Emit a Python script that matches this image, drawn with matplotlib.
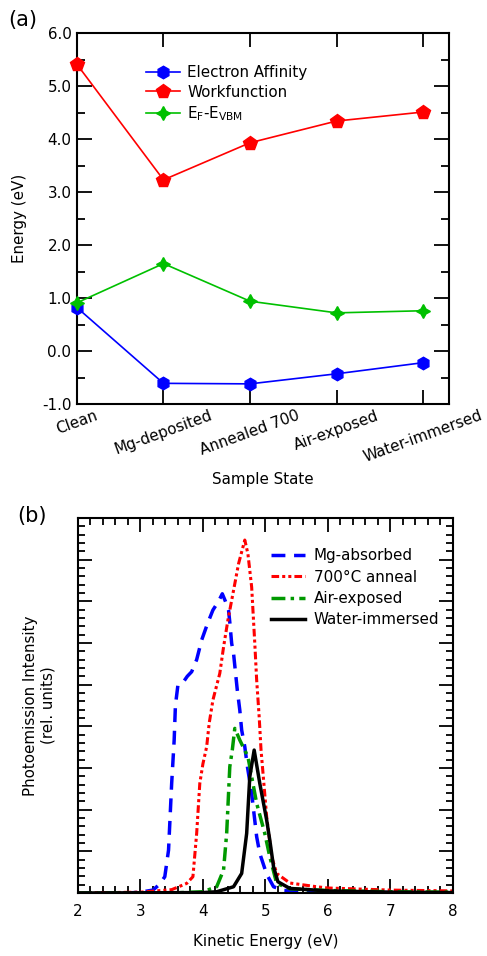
import matplotlib
matplotlib.use("Agg")
import matplotlib.pyplot as plt
from matplotlib.ticker import MultipleLocator, NullFormatter, FormatStrFormatter

plt.rcParams["font.family"] = ["DejaVu Sans"]
plt.rcParams["font.size"] = 10.9

# panel (a): band energies per sample state
states = ["Clean", "Mg-deposited", "Annealed 700", "Air-exposed", "Water-immersed"]
electron_affinity = [0.82, -0.61, -0.62, -0.43, -0.22]
workfunction = [5.41, 3.23, 3.93, 4.34, 4.51]
ef_evbm = [0.91, 1.65, 0.94, 0.72, 0.76]

# panel (b): photoemission spectra
mg_x = [2.0, 2.8, 3.0, 3.2, 3.3, 3.39, 3.45, 3.5, 3.54, 3.56, 3.6, 3.65, 3.69, 3.75, 3.82,
        3.9, 3.98, 4.07, 4.16, 4.25, 4.31, 4.36, 4.41, 4.43, 4.46, 4.49, 4.55, 4.59, 4.62,
        4.67, 4.71, 4.78, 4.86, 4.91, 5.02, 5.13, 5.3, 6.0, 7.0, 8.0]
mg_y = [0.0, 0.0, 0.02, 0.07, 0.2, 0.39, 1.03, 2.63, 3.67, 4.5, 4.99, 5.03, 5.07, 5.2, 5.31,
        5.6, 6.07, 6.45, 6.79, 7.0, 7.18, 7.0, 6.79, 6.5, 5.99, 5.75, 4.87, 4.39, 3.91,
        3.51, 3.05, 2.39, 1.35, 0.95, 0.45, 0.15, 0.06, 0.03, 0.01, 0.0]
anneal_x = [2.0, 3.0, 3.5, 3.74, 3.84, 3.9, 3.95, 4.0, 4.06, 4.1, 4.16, 4.27, 4.33, 4.4,
            4.5, 4.57, 4.67, 4.72, 4.78, 4.83, 4.86, 4.9, 4.93, 4.96, 5.02, 5.1, 5.18, 5.39,
            5.82, 6.0, 7.0, 8.0]
anneal_y = [0.0, 0.02, 0.08, 0.23, 0.39, 1.43, 2.63, 3.1, 3.51, 4.07, 4.63, 5.27, 5.9, 6.55,
            7.34, 7.9, 8.47, 8.14, 7.34, 5.99, 5.11, 4.23, 3.43, 2.9, 1.83, 0.87, 0.47, 0.24,
            0.15, 0.12, 0.07, 0.05]
air_x = [2.0, 3.5, 4.0, 4.22, 4.33, 4.38, 4.43, 4.47, 4.51, 4.59, 4.72, 4.86, 4.99, 5.07,
         5.18, 5.4, 6.0, 7.0, 8.0]
air_y = [0.0, 0.0, 0.03, 0.15, 0.55, 1.43, 3.03, 3.43, 3.95, 3.67, 3.27, 2.15, 1.43, 0.87,
         0.23, 0.1, 0.06, 0.03, 0.02]
water_x = [2.0, 4.0, 4.22, 4.49, 4.62, 4.7, 4.75, 4.82, 4.91, 5.02, 5.07, 5.13, 5.2, 5.39,
           6.0, 7.0, 8.0]
water_y = [0.0, 0.01, 0.03, 0.15, 0.47, 1.43, 2.79, 3.43, 2.63, 1.75, 1.27, 0.63, 0.27, 0.11,
           0.05, 0.02, 0.01]

fig = plt.figure(figsize=(4.87, 9.56), dpi=100)

# ---- (a)
ax = fig.add_axes([0.158, 0.5774, 0.764, 0.388])
pos = list(range(len(states)))
ax.plot(pos, electron_affinity, color="#0000ff", lw=1.2, marker="h", ms=9,
        label="Electron Affinity", clip_on=False, zorder=3)
ax.plot(pos, workfunction, color="#ff0000", lw=1.2, marker="p", ms=10,
        label="Workfunction", clip_on=False, zorder=3)
ax.plot(pos, ef_evbm, color="#00c000", lw=1.2, marker=(4, 1, 0), ms=10,
        label="E$_\\mathregular{F}$-E$_\\mathregular{VBM}$", clip_on=False, zorder=3)
ax.set_xlim(0, 4.3)
ax.set_ylim(-1, 6)
ax.set_xticks(pos)
ax.set_xticklabels(states, rotation=20, ha="center")
ax.yaxis.set_major_locator(MultipleLocator(1))
ax.yaxis.set_minor_locator(MultipleLocator(0.5))
ax.yaxis.set_major_formatter(FormatStrFormatter("%.1f"))
ax.tick_params(axis="both", which="both", direction="in", top=True, right=True, width=1.3)
ax.tick_params(axis="y", which="major", length=11, pad=4)
ax.tick_params(axis="y", which="minor", length=6)
ax.tick_params(axis="x", which="major", length=10, pad=3)
ax.set_ylabel("Energy (eV)")
ax.yaxis.set_label_coords(-0.135, 0.5)
ax.set_xlabel("Sample State", labelpad=5)
for s in ax.spines.values():
    s.set_linewidth(1.5)
ax.legend(loc="upper left", bbox_to_anchor=(0.17, 0.93), frameon=False,
          handlelength=2.2, handletextpad=0.5, labelspacing=0.3, borderaxespad=0)
fig.text(0.016, 0.979, "(a)", fontsize=15, va="center")

# ---- (b)
bx = fig.add_axes([0.160, 0.0659, 0.770, 0.3923])
bx.plot(mg_x, mg_y, color="#0000ff", lw=2.5, ls=(0, (4, 2.5)), label="Mg-absorbed")
bx.plot(anneal_x, anneal_y, color="#ff0000", lw=2.2, ls=(0, (2.5, 1, 1, 1, 1, 1)),
        label="700°C anneal")
bx.plot(air_x, air_y, color="#009900", lw=2.5, ls=(0, (4, 1.5, 1, 1.5)), label="Air-exposed")
bx.plot(water_x, water_y, color="black", lw=2.5, label="Water-immersed")
bx.set_xlim(2, 8)
bx.set_ylim(0, 9)
bx.xaxis.set_major_locator(MultipleLocator(1))
bx.xaxis.set_minor_locator(MultipleLocator(0.2))
bx.yaxis.set_major_locator(MultipleLocator(1))
bx.yaxis.set_minor_locator(MultipleLocator(0.2))
bx.yaxis.set_major_formatter(NullFormatter())
bx.tick_params(axis="both", which="both", direction="in", top=True, right=True, width=1.3)
bx.tick_params(axis="both", which="major", length=10)
bx.tick_params(axis="both", which="minor", length=5)
bx.tick_params(axis="x", which="major", pad=8)
bx.set_xlabel("Kinetic Energy (eV)", labelpad=11)
bx.set_ylabel("Photoemission Intensity\n(rel. units)")
bx.yaxis.set_label_coords(-0.06, 0.5)
for s in bx.spines.values():
    s.set_linewidth(1.5)
bx.legend(loc="upper left", bbox_to_anchor=(0.5, 0.935), frameon=False,
          handlelength=2.2, handletextpad=0.6, labelspacing=0.42, borderaxespad=0)
fig.text(0.035, 0.46, "(b)", fontsize=15, va="center")

fig.savefig("out.png", dpi=100)
